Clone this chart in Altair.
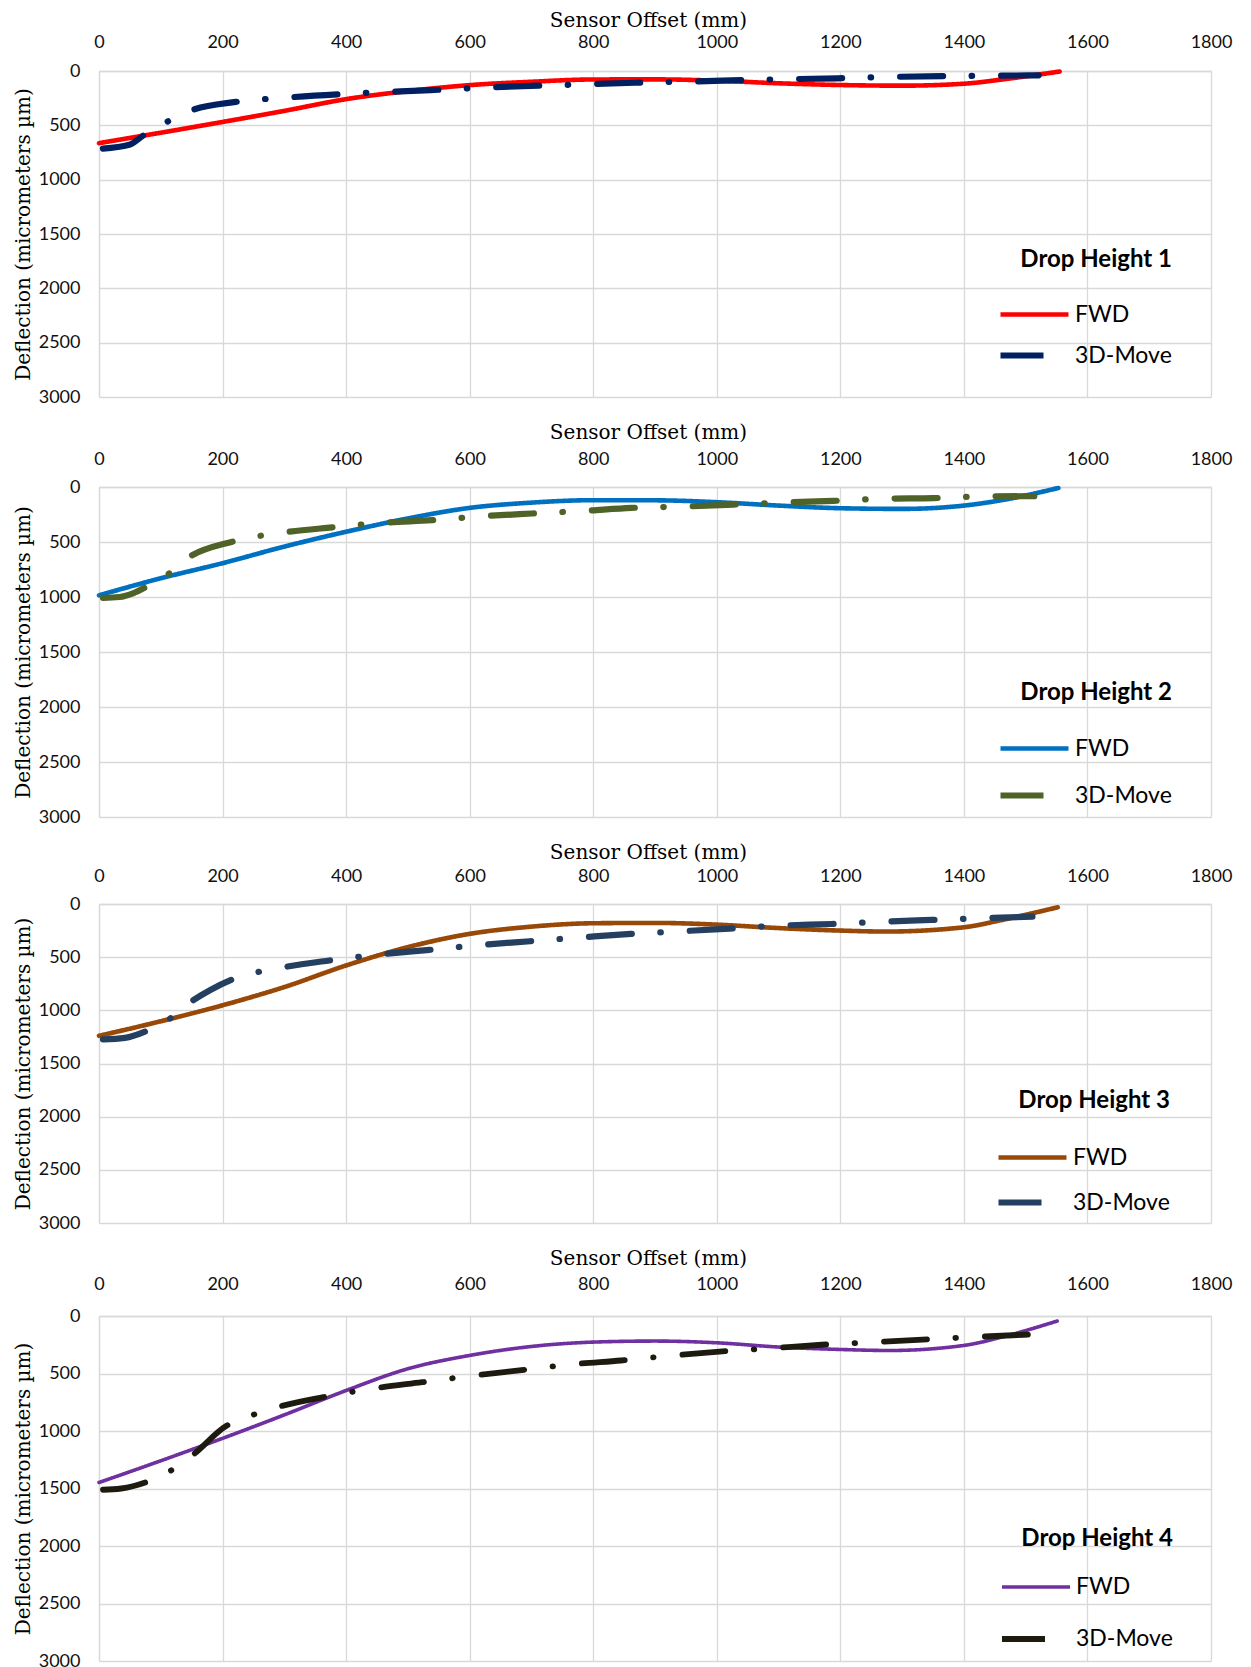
import altair as alt
import pandas as pd

X_TICKS = list(range(0, 1801, 200))
Y_TICKS = list(range(0, 3001, 500))
SERIES = ["FWD", "3D-Move"]

# Drop Height 1
p1_fwd_x = [0, 100, 200, 300, 400, 500, 600, 700, 800, 900, 1000, 1100, 1200, 1300, 1400, 1470, 1555]
p1_fwd_y = [664, 568, 469, 367, 259, 185, 130, 99, 78, 77, 89, 113, 129, 135, 117, 72, 5]
p1_mv_x = [0, 49, 72, 108, 147, 222, 305, 425, 537, 628, 742, 867, 951, 1073, 1196, 1277, 1398, 1521]
p1_mv_y = [716, 679, 593, 475, 367, 284, 244, 204, 176, 151, 130, 108, 98, 80, 67, 55, 46, 40]

# Drop Height 2
p2_fwd_x = [0, 100, 200, 300, 400, 500, 600, 700, 800, 900, 1000, 1100, 1200, 1300, 1400, 1464, 1553]
p2_fwd_y = [985, 830, 693, 542, 407, 286, 190, 142, 120, 121, 138, 169, 193, 199, 169, 117, 9]
p2_mv_x = [0, 33, 56, 73, 110, 143, 216, 299, 377, 461, 539, 623, 701, 785, 862, 946, 1027, 1108, 1189, 1270, 1351, 1433, 1514]
p2_mv_y = [1009, 1000, 964, 919, 801, 648, 497, 413, 367, 325, 301, 265, 241, 217, 190, 178, 160, 141, 126, 107, 101, 86, 83]

# Drop Height 3
p3_fwd_x = [0, 100, 200, 300, 400, 500, 600, 700, 800, 900, 1000, 1095, 1200, 1274, 1400, 1462, 1552]
p3_fwd_y = [1240, 1103, 953, 781, 578, 406, 281, 213, 181, 178, 194, 225, 250, 259, 219, 150, 31]
p3_mv_x = [0, 42, 77, 114, 146, 181, 214, 297, 373, 458, 535, 620, 698, 783, 861, 943, 1021, 1106, 1186, 1268, 1348, 1430, 1511]
p3_mv_y = [1275, 1259, 1194, 1081, 931, 806, 713, 597, 531, 472, 431, 384, 350, 313, 281, 256, 231, 203, 188, 166, 150, 134, 119]

# Drop Height 4
p4_fwd_x = [0, 100, 200, 300, 400, 500, 600, 700, 800, 900, 1000, 1100, 1200, 1279, 1400, 1468, 1551]
p4_fwd_y = [1448, 1259, 1064, 860, 648, 459, 343, 265, 227, 218, 233, 270, 291, 300, 256, 174, 44]
p4_mv_x = [0, 36, 75, 113, 149, 207, 246, 288, 363, 447, 523, 608, 684, 768, 845, 930, 1009, 1092, 1170, 1255, 1333, 1416, 1497, 1538]
p4_mv_y = [1512, 1500, 1448, 1355, 1221, 953, 866, 794, 706, 628, 576, 517, 471, 419, 387, 343, 308, 279, 250, 227, 206, 183, 163, 154]

TITLES = ["Drop Height 1", "Drop Height 2", "Drop Height 3", "Drop Height 4"]
DATA = [
    (p1_fwd_x, p1_fwd_y, p1_mv_x, p1_mv_y),
    (p2_fwd_x, p2_fwd_y, p2_mv_x, p2_mv_y),
    (p3_fwd_x, p3_fwd_y, p3_mv_x, p3_mv_y),
    (p4_fwd_x, p4_fwd_y, p4_mv_x, p4_mv_y),
]

# styles per panel
STYLE = [
    dict(colors=["#FF0000", "#002060"], widths=[4.6, 6.2], height=326, lab=29, tit=51, lx=898, ly=177, tp=23, rp=8),
    dict(colors=["#0070C0", "#4F6228"], widths=[4.6, 6.2], height=330, lab=28, tit=55, lx=898, ly=194, tp=24, rp=14),
    dict(colors=["#984807", "#243F60"], widths=[4.6, 6.2], height=319, lab=28, tit=52, lx=896, ly=185, tp=25, rp=12),
    dict(colors=["#7030A0", "#1D1B10"], widths=[3.6, 5.8], height=345, lab=32, tit=58, lx=900, ly=211, tp=17, rp=20),
]

DASHES = [[1, 0], [43, 28.5, 0.5, 29]]
GRID = "#D9D9D9"
TXT = "#111111"
W = 1112

charts = []
for title, (fx, fy, mx, my), st in zip(TITLES, DATA, STYLE):
    df = pd.DataFrame({
        "x": fx + mx,
        "y": fy + my,
        "series": ["FWD"] * len(fx) + ["3D-Move"] * len(mx),
    })
    leg = alt.Legend(
        title=title, orient="none", legendX=st["lx"], legendY=st["ly"],
        padding=0, titleFont="Lato", titleFontSize=24, titleFontWeight="bold",
        titleColor="#000000", titleAnchor="end", titlePadding=st["tp"],
        labelFont="Lato", labelFontSize=23, labelColor="#000000",
        labelOffset=37, rowPadding=st["rp"], symbolType="M-1,0H3",
        symbolSize=1156, labelLimit=0,
    )
    ch = alt.Chart(df).mark_line(
        interpolate="monotone", strokeCap="round", strokeJoin="round", strokeDashOffset=97
    ).encode(
        x=alt.X("x:Q", scale=alt.Scale(domain=[0, 1800], nice=False),
                axis=alt.Axis(orient="top", values=X_TICKS, format="d", title="Sensor Offset (mm)",
                              titleFont="DejaVu Serif", titleFontSize=20, titleFontWeight="normal",
                              titleColor="#000000", titleY=-st["tit"], titleX=W / 2 - 7,
                              titleBaseline="middle",
                              labelFont="Lato", labelFontSize=18, labelColor=TXT,
                              labelPadding=st["lab"], labelBaseline="middle", labelFlush=False,
                              ticks=False, tickSize=0, domainColor=GRID, domainWidth=1.3,
                              gridColor=GRID, gridWidth=1.3)),
        y=alt.Y("y:Q", scale=alt.Scale(domain=[0, 3000], reverse=True, nice=False),
                axis=alt.Axis(values=Y_TICKS, format="d", title="Deflection (micrometers µm)",
                              titleFont="DejaVu Serif", titleFontSize=20, titleFontWeight="normal",
                              titleColor="#000000", titleX=-76, titleBaseline="middle",
                              labelFont="Lato", labelFontSize=18, labelColor=TXT,
                              labelPadding=19, ticks=False, tickSize=0,
                              domainColor=GRID, domainWidth=1.3, gridColor=GRID, gridWidth=1.3)),
        color=alt.Color("series:N", scale=alt.Scale(domain=SERIES, range=st["colors"]), legend=leg),
        strokeDash=alt.StrokeDash("series:N", scale=alt.Scale(domain=SERIES, range=DASHES), legend=leg),
        strokeWidth=alt.StrokeWidth("series:N", scale=alt.Scale(domain=SERIES, range=st["widths"]), legend=leg),
    ).properties(width=W, height=st["height"])
    charts.append(ch)

chart = alt.vconcat(*charts, spacing=16).resolve_scale(
    color="independent", strokeDash="independent", strokeWidth="independent"
).resolve_legend(
    color="independent", strokeDash="independent", strokeWidth="independent"
).properties(
    padding={"left": 5, "top": 2, "right": 5, "bottom": 0}
).configure_view(stroke=None)

chart.save("out.html", embed_options={"renderer": "svg", "actions": False})
